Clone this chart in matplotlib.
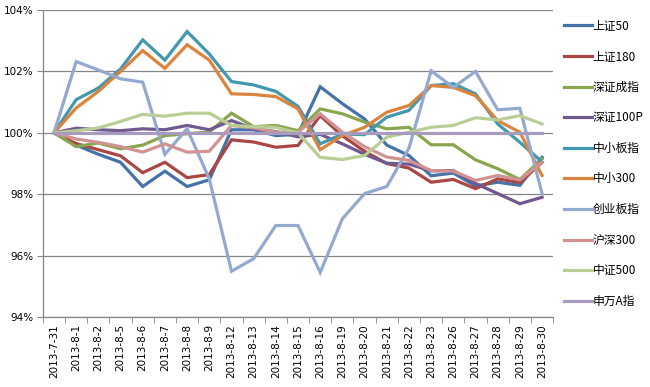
import matplotlib
matplotlib.use("Agg")
import matplotlib.pyplot as plt
from matplotlib.ticker import FuncFormatter, FixedLocator

plt.rcParams['font.family'] = ['Noto Sans CJK SC', 'DejaVu Sans']

dates = ["2013-7-31", "2013-8-1", "2013-8-2", "2013-8-5", "2013-8-6", "2013-8-7",
         "2013-8-8", "2013-8-9", "2013-8-12", "2013-8-13", "2013-8-14", "2013-8-15",
         "2013-8-16", "2013-8-19", "2013-8-20", "2013-8-21", "2013-8-22", "2013-8-23",
         "2013-8-26", "2013-8-27", "2013-8-28", "2013-8-29", "2013-8-30"]

sz50 = [100, 99.6, 99.3, 99.04, 98.25, 98.75, 98.25, 98.47, 100.1, 100.1, 99.91, 99.95,
        101.5, 100.95, 100.45, 99.6, 99.26, 98.6, 98.69, 98.27, 98.39, 98.29, 99.2]
sz180 = [100, 99.65, 99.45, 99.25, 98.7, 99.04, 98.54, 98.64, 99.77, 99.7, 99.53, 99.59,
         100.56, 99.9, 99.4, 99.0, 98.85, 98.39, 98.48, 98.18, 98.5, 98.38, 99.04]
szcz = [100, 99.55, 99.67, 99.48, 99.6, 99.91, 99.97, 100.02, 100.64, 100.2, 100.24, 100.07,
        100.78, 100.62, 100.35, 100.13, 100.18, 99.61, 99.61, 99.12, 98.83, 98.48, 99.15]
sz100p = [100, 100.15, 100.1, 100.07, 100.13, 100.1, 100.24, 100.1, 100.4, 100.13, 100.04, 99.87,
          99.95, 99.64, 99.3, 99.01, 98.98, 98.76, 98.77, 98.35, 98.02, 97.69, 97.9]
zxbz = [100, 101.08, 101.46, 102.08, 103.03, 102.37, 103.3, 102.57, 101.67, 101.56, 101.35, 100.86,
        99.64, 99.96, 99.94, 100.51, 100.73, 101.54, 101.6, 101.27, 100.29, 99.69, 99.05]
zx300 = [100, 100.81, 101.35, 102.0, 102.68, 102.1, 102.87, 102.37, 101.27, 101.25, 101.18, 100.78,
         99.45, 99.91, 100.18, 100.67, 100.89, 101.54, 101.48, 101.21, 100.4, 100.02, 98.61]
cybz = [100, 102.32, 102.05, 101.76, 101.65, 99.3, 100.13, 98.5, 95.49, 95.9, 96.98, 96.98,
        95.45, 97.2, 98.02, 98.25, 99.5, 102.02, 101.48, 102.0, 100.75, 100.8, 98.02]
hs300 = [100, 99.8, 99.69, 99.55, 99.37, 99.64, 99.37, 99.4, 100.24, 100.16, 100.02, 100.02,
         100.62, 100.02, 99.55, 99.21, 99.1, 98.77, 98.75, 98.45, 98.61, 98.47, 99.04]
zz500 = [100, 100.07, 100.16, 100.37, 100.6, 100.54, 100.64, 100.64, 100.24, 100.2, 100.18, 100.0,
         99.2, 99.13, 99.26, 99.86, 100.02, 100.18, 100.24, 100.49, 100.42, 100.56, 100.29]
swa = [100] * 23

names = ["上证50", "上证180", "深证成指", "深证100P", "中小板指", "中小300",
         "创业板指", "沪深300", "中证500", "申万A指"]
colors = ["#4572A7", "#AA4643", "#89A54E", "#71588F", "#4198AF", "#DB843D",
          "#93A9CF", "#D19392", "#B9CD96", "#A99BBD"]
series = [sz50, sz180, szcz, sz100p, zxbz, zx300, cybz, hs300, zz500, swa]

fig = plt.figure(figsize=(6.5, 3.87), dpi=100)
ax = fig.add_axes([0.066, 0.181, 0.785, 0.793])

x = list(range(len(dates)))
for vals, name, c in zip(series, names, colors):
    ax.plot(x, vals, color=c, lw=2.3, label=name, solid_joinstyle="miter")

ax.set_xlim(-0.5, len(dates) - 0.5)
ax.set_ylim(94, 104)
ax.set_yticks([94, 96, 98, 100, 102, 104])
ax.yaxis.set_major_formatter(FuncFormatter(lambda v, p: "%d%%" % v))
ax.grid(axis="y", color="#868686", lw=0.9)
ax.set_axisbelow(True)

ax.set_xticks(x)
ax.set_xticklabels(dates, rotation=90, fontsize=7.5, family="DejaVu Sans")
ax.tick_params(axis="x", which="major", length=0, pad=5)
ax.xaxis.set_minor_locator(FixedLocator([i - 0.5 for i in range(len(dates) + 1)]))
ax.tick_params(axis="x", which="minor", length=4, color="#868686", direction="out")
ax.tick_params(axis="y", length=4, color="#868686", labelsize=7.5, pad=3)
for lab in ax.get_yticklabels():
    lab.set_family("DejaVu Sans")

for s in ["top", "right"]:
    ax.spines[s].set_visible(False)
for s in ["left", "bottom"]:
    ax.spines[s].set_color("#868686")
    ax.spines[s].set_linewidth(0.9)

leg = fig.legend(loc="upper left", bbox_to_anchor=(0.852, 0.977), frameon=False,
                 fontsize=8.5, handlelength=2.3, handletextpad=0.1, labelspacing=1.49)
for line in leg.get_lines():
    line.set_linewidth(2.3)

fig.savefig("out.png", dpi=100)
